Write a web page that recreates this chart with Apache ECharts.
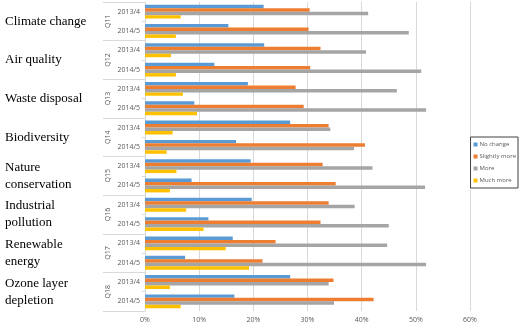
<!DOCTYPE html>
<html>
<head>
<meta charset="utf-8">
<script src="https://cdn.jsdelivr.net/npm/echarts@6/dist/echarts.min.js"></script>
<style>
  html, body { margin: 0; padding: 0; background: #fff; }
  #chart { width: 520px; height: 324px; }
</style>
</head>
<body>
<div id="chart"></div>
<script>
// 分类
const topics = ['Climate change', 'Air quality', 'Waste disposal', 'Biodiversity',
  'Nature\nconservation', 'Industrial\npollution', 'Renewable\nenergy', 'Ozone layer\ndepletion']
const questions = ['Q11', 'Q12', 'Q13', 'Q14', 'Q15', 'Q16', 'Q17', 'Q18']
const years = ['2013/4', '2014/5']
const xTicks = [0, 10, 20, 30, 40, 50, 60]

// 每个问题两年: 2013/4, 2014/5 (%)
const noChange = [21.9, 15.4, 22.0, 12.8, 19.0, 9.1, 26.8, 16.8, 19.5, 8.6, 19.7, 11.7, 16.2, 7.4, 26.8, 16.5]
const slightlyMore = [30.4, 30.2, 32.4, 30.5, 27.8, 29.3, 33.9, 40.6, 32.8, 35.2, 33.9, 32.4, 24.1, 21.7, 34.8, 42.2]
const more = [41.2, 48.7, 40.8, 51.0, 46.5, 51.9, 34.2, 38.6, 42.0, 51.7, 38.7, 45.0, 44.7, 51.9, 33.9, 34.9]
const muchMore = [6.6, 5.7, 4.8, 5.7, 7.0, 9.6, 5.1, 4.0, 5.8, 4.6, 7.6, 10.8, 14.9, 19.2, 4.6, 6.6]

const seriesNames = ['No change', 'Slightly more', 'More', 'Much more']
const seriesData = [noChange, slightlyMore, more, muchMore]
const colorList = ['#5B9BD5', '#ED7D31', '#A5A5A5', '#FFC000']

const categories = []
questions.forEach(() => years.forEach(y => categories.push(y)))

const chart = echarts.init(document.getElementById('chart'))
const labelFont = 'Open Sans, Noto Sans, sans-serif'

const option = {
  animation: false,
  color: colorList,
  grid: { left: 145, right: 50, top: 2, bottom: 13 },
  legend: {
    orient: 'vertical',
    right: 2,
    top: 137,
    itemWidth: 4,
    itemHeight: 4,
    itemGap: 5,
    padding: [4, 2, 4, 3],
    borderColor: '#404040',
    borderWidth: 1,
    icon: 'rect',
    textStyle: { fontSize: 6, lineHeight: 7, color: '#595959', fontFamily: labelFont, padding: [0, 0, 0, -3] },
    data: seriesNames
  },
  xAxis: {
    type: 'value',
    min: xTicks[0],
    max: xTicks[xTicks.length - 1],
    interval: 10,
    axisLine: { show: false },
    axisTick: { show: false },
    splitLine: { lineStyle: { color: '#d9d9d9', width: 1 } },
    axisLabel: { formatter: '{value}%', fontSize: 7, color: '#595959', fontFamily: labelFont, margin: 5 }
  },
  yAxis: [
    {
      type: 'category',
      data: categories,
      inverse: true,
      axisLine: { show: true, lineStyle: { color: '#d9d9d9' } },
      axisTick: { show: true, length: 3, interval: 0, lineStyle: { color: '#d9d9d9' } },
      axisLabel: { fontSize: 7, color: '#595959', fontFamily: labelFont, margin: 5, interval: 0 }
    },
    {
      type: 'category',
      data: questions,
      inverse: true,
      position: 'left',
      axisLine: { show: false },
      axisTick: { show: true, length: 42, interval: 0, lineStyle: { color: '#d9d9d9' } },
      axisLabel: { rotate: 90, fontSize: 7, color: '#595959', fontFamily: labelFont, margin: 34, interval: 0 }
    },
    {
      type: 'category',
      data: topics,
      inverse: true,
      position: 'left',
      axisLine: { show: false },
      axisTick: { show: false },
      axisLabel: {
        align: 'left', margin: 140, interval: 0,
        fontSize: 13, lineHeight: 17, color: '#000',
        fontFamily: 'Liberation Serif, DejaVu Serif, serif'
      }
    }
  ],
  series: seriesNames.map((name, i) => ({
    name: name,
    type: 'bar',
    yAxisIndex: 0,
    data: seriesData[i],
    barGap: '0%',
    barCategoryGap: '28%'
  }))
}

chart.setOption(option)
</script>
</body>
</html>
